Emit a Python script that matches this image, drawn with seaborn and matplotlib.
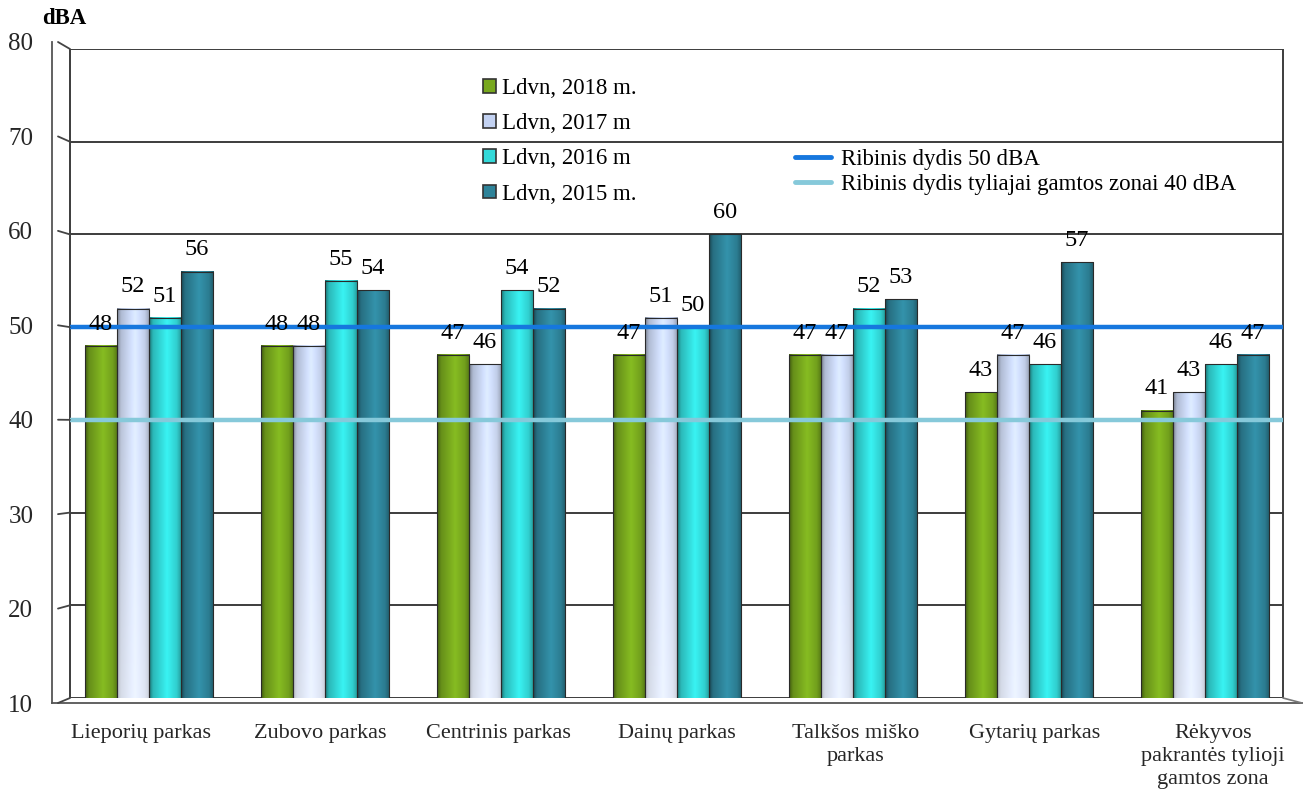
import numpy as np
import pandas as pd
import matplotlib
matplotlib.use("Agg")
import matplotlib.pyplot as plt
import matplotlib.transforms as mtransforms
from matplotlib.lines import Line2D
from matplotlib.patches import Patch
from matplotlib.colors import to_rgb
import seaborn as sns

# ---- data -------------------------------------------------------------
parks = ["Lieporių parkas", "Zubovo parkas", "Centrinis parkas", "Dainų parkas",
         "Talkšos miško\nparkas", "Gytarių parkas",
         "Rėkyvos\npakrantės tylioji\ngamtos zona"]
series = ["Ldvn, 2018 m.", "Ldvn, 2017 m", "Ldvn, 2016 m", "Ldvn, 2015 m."]
ldvn_2018 = [48, 48, 47, 47, 47, 43, 41]
ldvn_2017 = [52, 48, 46, 51, 47, 47, 43]
ldvn_2016 = [51, 55, 54, 50, 52, 46, 46]
ldvn_2015 = [56, 54, 52, 60, 53, 57, 47]
limit_general = 50
limit_quiet = 40
limit_labels = ["Ribinis dydis 50 dBA", "Ribinis dydis tyliajai gamtos zonai 40 dBA"]
y_ticks = [10, 20, 30, 40, 50, 60, 70, 80]

colors = ["#78a81e", "#c3d2f2", "#33d9d9", "#2e8399"]
limit_colors = ["#1677de", "#86c9da"]

df = pd.DataFrame({
    "park": parks * 4,
    "series": sum([[s] * len(parks) for s in series], []),
    "value": ldvn_2018 + ldvn_2017 + ldvn_2016 + ldvn_2015,
})

# ---- style ------------------------------------------------------------
sns.set_theme(style="white")
plt.rcParams["font.family"] = ["Liberation Serif", "DejaVu Serif"]
plt.rcParams["text.color"] = "black"

W, H = 1312, 794
fig = plt.figure(figsize=(W / 100, H / 100), dpi=100)


def fx(px):
    return px / W


def fy(py):
    return 1 - py / H


# front (projected) frame: value axis and floor edge
front = fig.add_axes([fx(52), fy(703), (1302 - 52) / W, (703 - 42) / H])
front.set_facecolor("none")
front.set_xlim(0, 7)
front.set_ylim(10, 80)
for s in ["top", "right"]:
    front.spines[s].set_visible(False)
for s in ["left", "bottom"]:
    front.spines[s].set_color("#555555")
    front.spines[s].set_linewidth(1.3)
front.set_yticks(y_ticks)
front.set_yticklabels([str(t) for t in y_ticks], fontsize=18)
front.tick_params(axis="y", direction="inout", length=9, width=1.2,
                  color="#222222", pad=9)
front.set_xticks(range(8))
front.set_xticklabels([])
front.tick_params(axis="x", which="major", direction="inout", length=9,
                  width=1.2, color="#222222")
front.set_xticks(np.arange(7) + 0.5, minor=True)
front.set_xticklabels(parks, minor=True, fontsize=16, linespacing=1.3)
front.tick_params(axis="x", which="minor", length=0, pad=15)

# back wall with the bars
ax = fig.add_axes([fx(61), fy(698), (1293 - 61) / W, (698 - 49) / H])
ax.set_facecolor("none")
sns.barplot(data=df, x="park", y="value", hue="series", palette=colors,
            saturation=1, width=0.73, gap=0, ax=ax, legend=False,
            edgecolor="#2a2a2a", linewidth=0.8, zorder=3)
ax.set_xlim(-0.5, 6.5)
ax.set_ylim(10, 80)
ax.axis("off")

xa0 = (70 - 61) / (1293 - 61)
xa1 = (1283 - 61) / (1293 - 61)
blend = mtransforms.blended_transform_factory(ax.transAxes, ax.transData)
grid_kw = dict(color="#3c3c3c", lw=1.4, transform=blend, zorder=1,
               solid_capstyle="butt")
for v in y_ticks:
    ax.plot([xa0, xa1], [v, v], **grid_kw)
ax.plot([xa0, xa0], [10, 80], **grid_kw)
ax.plot([xa1, xa1], [10, 80], **grid_kw)


# cylinder-like shading on each bar
def shade(base, n=64, vertical=False):
    c = np.array(to_rgb(base))
    t = np.linspace(0, 1, n)
    prof = np.interp(t, [0, 0.12, 0.55, 0.85, 1.0], [0.55, 0.85, 1.12, 0.95, 0.7])
    row = np.clip(c[None, :] * prof[:, None], 0, 1)
    if not vertical:
        return row[None, :, :]
    m = 64
    v = np.linspace(0, 1, m)[:, None, None]  # 0 = top, 1 = bottom
    white = np.ones(3)[None, None, :]
    mix = 0.1 + 0.55 * v
    return np.clip(row[None, :, :] * (1 - mix) + white * mix, 0, 1)


for i, cont in enumerate(ax.containers):
    img = shade(colors[i], vertical=(i == 1))
    for bar in cont:
        x0, y0 = bar.get_x(), bar.get_y()
        w, h = bar.get_width(), bar.get_height()
        ax.imshow(img, extent=[x0, x0 + w, y0, y0 + h], aspect="auto",
                  origin="upper", zorder=3.2, interpolation="bilinear")
        bar.set_facecolor("none")
        bar.set_zorder(3.4)
    ax.bar_label(cont, labels=[f"{v:.0f}" for v in cont.datavalues],
                 padding=8, fontsize=17.5, zorder=6)
ax.set_xlim(-0.5, 6.5)
ax.set_ylim(10, 80)

# limit lines
ax.plot([xa0, xa1], [limit_general] * 2, color=limit_colors[0], lw=3.2,
        transform=blend, zorder=5, solid_capstyle="butt")
ax.plot([xa0, xa1], [limit_quiet] * 2, color=limit_colors[1], lw=3.2,
        transform=blend, zorder=5, solid_capstyle="butt")

# connectors between the front axis and the back wall
to_fig = fig.transFigure.inverted()
for v in y_ticks:
    p0 = to_fig.transform(front.transData.transform((0, v)))
    p1 = to_fig.transform(blend.transform((xa0, v)))
    fig.add_artist(Line2D([p0[0] + 6 / W, p1[0]], [p0[1], p1[1]],
                          color="#444444", lw=1.3, transform=fig.transFigure))
p0 = to_fig.transform(front.transData.transform((7, 10)))
p1 = to_fig.transform(blend.transform((xa1, 10)))
fig.add_artist(Line2D([p1[0], p0[0]], [p1[1], p0[1]], color="#777777",
                      lw=1.2, transform=fig.transFigure))

# unit label
fig.text(fx(42), fy(19), "dBA", fontsize=16.5, fontweight="bold",
         ha="left", va="center")

# legends
bar_handles = [Patch(facecolor=c, edgecolor="#333333", linewidth=1.2)
               for c in colors]
leg1 = fig.legend(bar_handles, series, loc="upper left",
                  bbox_to_anchor=(fx(483), fy(78)), frameon=False,
                  fontsize=16.5, handlelength=0.55, handleheight=0.55,
                  handletextpad=0.3, labelspacing=0.62, borderaxespad=0,
                  borderpad=0)
line_handles = [Line2D([0], [0], color=c, lw=3.5) for c in limit_colors]
leg2 = fig.legend(line_handles, limit_labels, loc="upper left",
                  bbox_to_anchor=(fx(795), fy(149)), frameon=False,
                  fontsize=16.5, handlelength=1.55, handletextpad=0.45,
                  labelspacing=0.18, borderaxespad=0, borderpad=0)

fig.savefig("out.png", dpi=100)
